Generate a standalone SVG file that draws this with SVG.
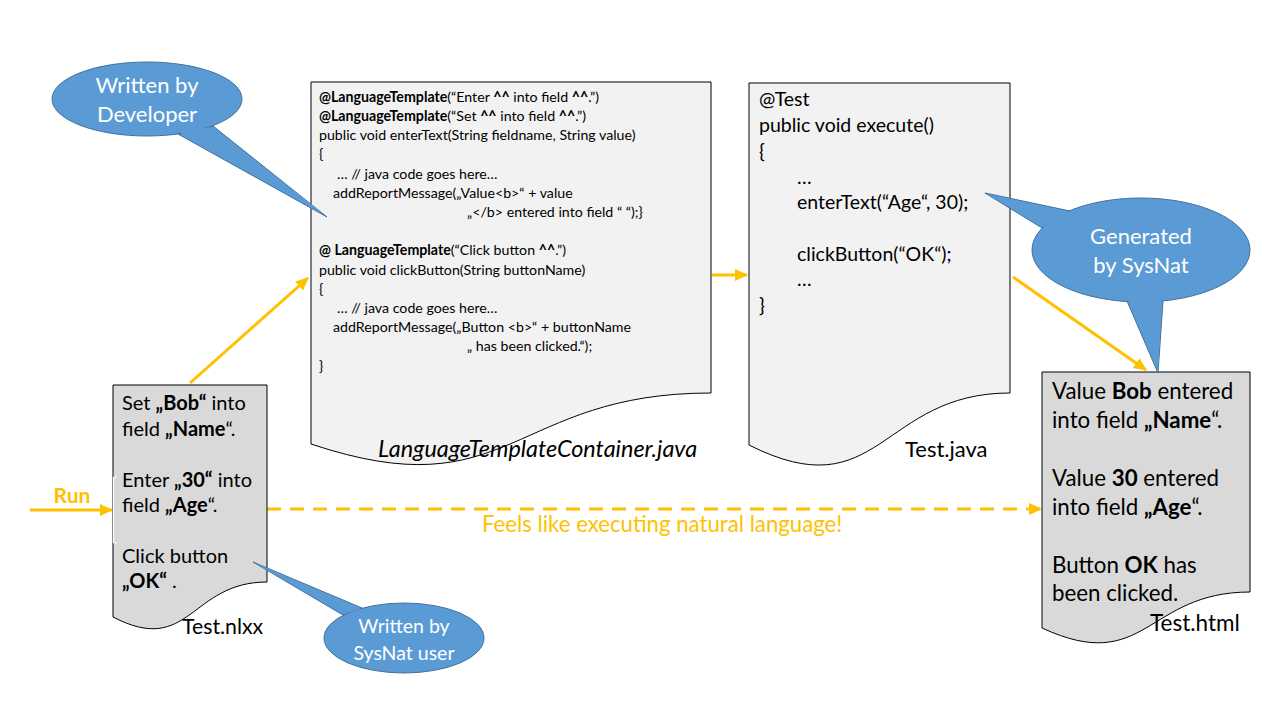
<svg xmlns="http://www.w3.org/2000/svg" width="1280" height="720" viewBox="0 0 1280 720">
<defs>
<style>
text{font-family:Lato,"Liberation Sans",sans-serif;fill:#000}
.doc{stroke:#000;stroke-width:1}
.dk{fill:#d9d9d9}
.lt{fill:#f2f2f2}
.code{font-size:14.2px}
.b{font-weight:bold}
.big{font-size:20px}
.java{font-size:19.5px}
.html{font-size:22.3px}
.co{fill:#5b9bd5;stroke:#41719c;stroke-width:1}
.cof{fill:#5b9bd5}
.cot{fill:#fff;font-size:22px;text-anchor:middle}
.arr{stroke:#ffc000;stroke-width:3;fill:none}
</style>
<marker id="ah" markerUnits="userSpaceOnUse" markerWidth="14" markerHeight="14" refX="12" refY="7" orient="auto">
<path d="M0,1 L13,7 L0,13 Z" fill="#ffc000"/>
</marker>
</defs>
<rect width="1280" height="720" fill="#fff"/>

<g id="connectors">
<line class="arr" x1="190" y1="383" x2="308" y2="278" marker-end="url(#ah)"/>
<line class="arr" x1="712" y1="275" x2="747" y2="275" marker-end="url(#ah)"/>
<line class="arr" x1="1013" y1="277" x2="1146" y2="370" marker-end="url(#ah)"/>
<line class="arr" x1="30" y1="510" x2="112" y2="510" marker-end="url(#ah)"/>
<text x="72" y="503" class="b" font-size="21" text-anchor="middle" style="fill:#ffc000">Run</text>
<line class="arr" x1="267" y1="509" x2="1041" y2="509" stroke-dasharray="14 9" marker-end="url(#ah)"/>
<text x="482" y="532" font-size="22.2" style="fill:#ffc000">Feels like executing natural language!</text>
</g>

<g id="test-nlxx">
<path class="doc dk" d="M113,385 H267 V582 C190,582 190,657 113,617 Z"/>
<path d="M113.5,477 V543 M113.5,477 H117 M113.5,543 H117" stroke="#fff" stroke-width="1.2" fill="none"/>
<text class="big" x="122" y="410">Set <tspan class="b">„Bob“</tspan> into</text>
<text class="big" x="122" y="436">field <tspan class="b">„Name</tspan>“.</text>
<text class="big" x="122" y="487">Enter <tspan class="b">„30“</tspan> into</text>
<text class="big" x="122" y="512">field <tspan class="b">„Age</tspan>“.</text>
<text class="big" x="122" y="563">Click button</text>
<text class="big" x="122" y="588"><tspan class="b">„OK“</tspan> .</text>
<text x="182" y="634" font-size="21.3">Test.nlxx</text>
</g>

<g id="language-template-container">
<path class="doc lt" d="M311,82 H711 V393 C511,393 511,511 311,444 Z"/>
<text class="code" x="319" y="102"><tspan class="b">@LanguageTemplate</tspan>(“Enter <tspan class="b">^^</tspan> into field <tspan class="b">^^</tspan>.”)</text>
<text class="code" x="319" y="121"><tspan class="b">@LanguageTemplate</tspan>(“Set <tspan class="b">^^</tspan> into field <tspan class="b">^^</tspan>.”)</text>
<text class="code" x="319" y="140">public void enterText(String  fieldname, String value)</text>
<text class="code" x="319" y="159">{</text>
<text class="code" x="337" y="179">… // java code goes here…</text>
<text class="code" x="333" y="198">addReportMessage(„Value&lt;b&gt;“ + value</text>
<text class="code" x="467" y="217">„&lt;/b&gt; entered  into field “ “);}</text>
<text class="code" x="319" y="255"><tspan class="b">@ LanguageTemplate</tspan>(“Click button <tspan class="b">^^</tspan>.”)</text>
<text class="code" x="319" y="275">public void clickButton(String  buttonName)</text>
<text class="code" x="319" y="294">{</text>
<text class="code" x="337" y="313">… // java code goes here…</text>
<text class="code" x="333" y="332">addReportMessage(„Button &lt;b&gt;“ + buttonName</text>
<text class="code" x="467" y="351">„ has been clicked.“);</text>
<text class="code" x="319" y="371">}</text>
<text x="378" y="457" font-size="23.4" font-style="italic">LanguageTemplateContainer.java</text>
</g>

<g id="test-java">
<path class="doc lt" d="M749,83 H1010 V393 C880,393 880,511 749,445 Z"/>
<text class="java" x="759" y="106">@Test</text>
<text class="java" x="759" y="132">public void execute()</text>
<text class="java" x="759" y="158">{</text>
<text class="java" x="797" y="184">…</text>
<text class="java" x="797" y="209">enterText(“Age“,  30);</text>
<text class="java" x="797" y="261">clickButton(“OK“);</text>
<text class="java" x="797" y="286">…</text>
<text class="java" x="759" y="312">}</text>
<text x="905" y="457" font-size="22">Test.java</text>
</g>

<g id="test-html">
<path class="doc dk" d="M1042,372 H1250 V592 C1146,592 1146,676 1042,628 Z"/>
<text class="html" x="1052" y="399">Value <tspan class="b">Bob</tspan> entered</text>
<text class="html" x="1052" y="428">into field <tspan class="b">„Name</tspan>“.</text>
<text class="html" x="1052" y="486">Value <tspan class="b">30</tspan> entered</text>
<text class="html" x="1052" y="515">into field <tspan class="b">„Age</tspan>“.</text>
<text class="html" x="1052" y="573">Button <tspan class="b">OK</tspan> has</text>
<text class="html" x="1052" y="601">been clicked.</text>
<text x="1150" y="631" font-size="22.5">Test.html</text>
</g>

<g id="callout-developer">
<polygon class="co" points="178,134 327,217 213,126"/>
<ellipse class="co" cx="147" cy="99" rx="95" ry="37"/>
<polygon class="cof" points="179,132 325,215 212,127"/>
<text class="cot" x="147" y="93">Written by</text>
<text class="cot" x="147" y="122">Developer</text>
</g>

<g id="callout-sysnat">
<polygon class="co" points="1070,211 985,193 1042,228"/>
<polygon class="co" points="1127,301 1158,373 1163,301"/>
<ellipse class="co" cx="1141" cy="250" rx="109" ry="52"/>
<polygon class="cof" points="1070,212 987,194 1043,227"/>
<polygon class="cof" points="1128,300 1158,371 1162,300"/>
<text class="cot" x="1141" y="244">Generated</text>
<text class="cot" x="1141" y="273">by SysNat</text>
</g>

<g id="callout-user">
<polygon class="co" points="362,608 253,562 343,615"/>
<ellipse class="co" cx="404" cy="638" rx="80" ry="35"/>
<polygon class="cof" points="361,609 255,563 344,614"/>
<text class="cot" x="404" y="633" style="font-size:19.5px">Written by</text>
<text class="cot" x="404" y="660" style="font-size:19.5px">SysNat user</text>
</g>
</svg>
